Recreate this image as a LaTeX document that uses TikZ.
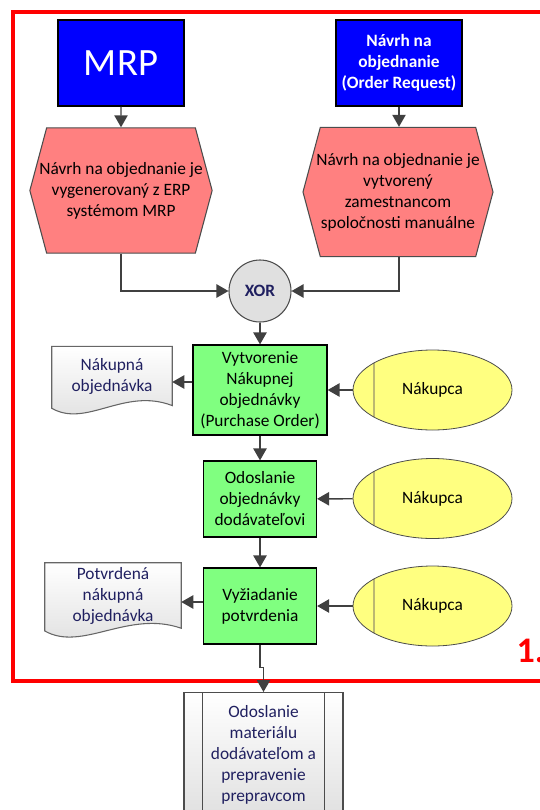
\documentclass[tikz,border=0pt]{standalone}
\usepackage{fontspec}
\setmainfont{Carlito}
\usetikzlibrary{arrows.meta,shapes.geometric,shapes.symbols,backgrounds}
\definecolor{trigblue}{RGB}{0,0,255}
\definecolor{evsalmon}{RGB}{255,128,128}
\definecolor{fngreen}{RGB}{128,255,128}
\definecolor{orgyellow}{RGB}{255,255,128}
\definecolor{xorgray}{RGB}{224,224,224}
\definecolor{linegray}{RGB}{64,64,64}
\definecolor{docnavy}{RGB}{32,32,96}
\definecolor{framered}{RGB}{255,0,0}

\begin{document}
\begin{tikzpicture}[x=0.75pt,y=-0.75pt,
        every node/.style={font=\fontsize{13}{15.75}\selectfont, align=center, inner sep=1pt},
        flow/.style={draw=linegray, line width=1.1pt, -{Triangle[width=10pt,length=9pt]}},
        trigger/.style={draw=black, line width=0.8pt, fill=trigblue, text=white, minimum width=94.5pt, minimum height=64.5pt},
        event/.style={shape=signal, signal to=west and east, signal pointer angle=150, draw=black!70, line width=0.8pt, fill=evsalmon, minimum height=94pt},
        function/.style={draw=black, line width=0.9pt, fill=fngreen, minimum width=84.75pt, minimum height=57pt},
        orgunit/.style={ellipse, draw=black!70, line width=0.6pt, fill=orgyellow, minimum width=119.25pt, minimum height=60pt, inner sep=0pt,
            path picture={\draw[yellow!40!gray, line width=1pt] ([xshift=15.75pt]path picture bounding box.north west) -- ([xshift=15.75pt]path picture bounding box.south west);}},
        docline/.style={draw=black!60, line width=0.8pt, top color=white, bottom color=black!13}]
    \useasboundingbox (0,0) rectangle (539,810);

    % frame of the first part
    \draw[framered, line width=3pt] (13,12) rectangle (580,681);
    \node[text=framered, font=\fontsize{27}{30}\selectfont\bfseries, anchor=west] (partno) at (515,651) {1.};

    % start events
    \node[trigger, font=\fontsize{29}{34}\selectfont] (mrp) at (121,63) {MRP};
    \node[trigger, font=\fontsize{13}{15.75}\selectfont\bfseries] (orderreq) at (399,63) {Návrh na\\objednanie\\(Order Request)};
    \node[event, inner xsep=-5.5pt] (evmrp) at (121,190.5) {Návrh na objednanie je\\vygenerovaný z ERP\\systémom MRP};
    \node[event, inner xsep=-3pt, minimum height=97pt] (evman) at (398,192) {Návrh na objednanie je\\vytvorený\\zamestnancom\\spoločnosti manuálne};
    \node[circle, draw=black!70, line width=0.8pt, fill=xorgray, minimum size=46.5pt, text=docnavy, font=\fontsize{13}{15.75}\selectfont\bfseries] (xor) at (260,291) {XOR};

    % functions
    \node[function, minimum width=100.5pt, minimum height=67.5pt] (create) at (260,390) {Vytvorenie\\Nákupnej\\objednávky\\(Purchase Order)};
    \node[function] (send) at (260,499) {Odoslanie\\objednávky\\dodávateľovi};
    \node[function] (confirm) at (260,606) {Vyžiadanie\\potvrdenia};

    % org units
    \node[orgunit] (buyer1) at (432.5,390) {Nákupca};
    \node[orgunit] (buyer2) at (432.5,498.5) {Nákupca};
    \node[orgunit] (buyer3) at (432.5,606) {Nákupca};

    % documents
    \node[minimum width=90pt, minimum height=44pt, text=docnavy] (po) at (112,376) {Nákupná\\objednávka};
    \node[minimum width=102pt, minimum height=48.75pt, text=docnavy] (poconf) at (113,595.5) {Potvrdená\\nákupná\\objednávka};
    \begin{scope}[on background layer]
        \draw[docline] (po.north west) -- (po.north east) -- (po.south east)
            .. controls ([xshift=-36pt,yshift=14pt]po.south east) and ([xshift=26pt,yshift=-17pt]po.south west) .. ([yshift=-2pt]po.south west) -- cycle;
        \draw[docline] (poconf.north west) -- (poconf.north east) -- (poconf.south east)
            .. controls ([xshift=-40pt,yshift=14pt]poconf.south east) and ([xshift=28pt,yshift=-18pt]poconf.south west) .. ([yshift=-2pt]poconf.south west) -- cycle;
    \end{scope}

    % next process
    \node[draw=black!70, line width=0.8pt, top color=white, bottom color=black!12, anchor=north, minimum width=119.25pt, minimum height=93pt, text=docnavy] (ship) at (263.5,692) {Odoslanie\\materiálu\\dodávateľom a\\prepravenie\\prepravcom};
    \draw[black!70, line width=0.8pt] ([xshift=14.25pt]ship.north west) -- ([xshift=14.25pt]ship.south west);
    \draw[black!70, line width=0.8pt] ([xshift=-14.25pt]ship.north east) -- ([xshift=-14.25pt]ship.south east);

    % connectors
    \draw[flow] (mrp) -- (evmrp);
    \draw[flow] (orderreq) -- (orderreq |- evman.north);
    \draw[flow] (evmrp.south) |- (xor.west);
    \draw[flow] (evman.south -| orderreq.south) |- (xor.east);
    \draw[flow] (xor) -- (create);
    \draw[flow] (create) -- (send);
    \draw[flow] (send) -- (confirm);
    \draw[flow] (buyer1) -- (create);
    \draw[flow] (buyer2) -- (send);
    \draw[flow] (buyer3) -- (confirm);
    \draw[flow] ([yshift=6pt]create.west) -- ([yshift=6pt]create.west -| po.east);
    \draw[flow] ([yshift=3pt]confirm.west) -- ([yshift=3pt]confirm.west -| poconf.east);
    \draw[flow] (confirm.south) -- ++(0,23) -| (ship.north);
\end{tikzpicture}
\end{document}
